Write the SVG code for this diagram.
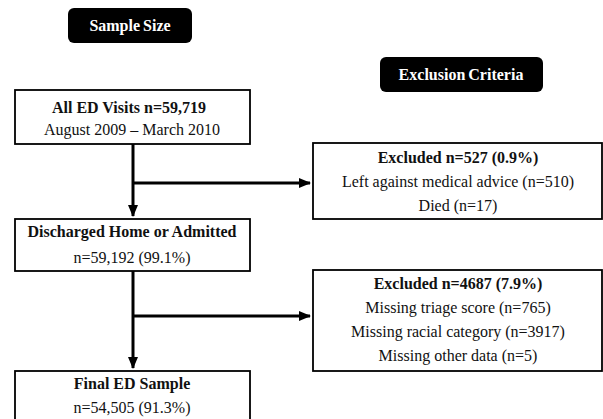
<svg xmlns="http://www.w3.org/2000/svg" width="603" height="419" viewBox="0 0 603 419">
<style>
.box{fill:#fff;stroke:#000;stroke-width:1.8}
.pill{fill:#000}
.t{font-family:"Liberation Serif","Times New Roman",serif;font-size:16px;fill:#111;text-anchor:middle}
.b{font-weight:bold}
.pt{font-family:"Liberation Serif","Times New Roman",serif;font-size:16px;font-weight:bold;fill:#fff;text-anchor:middle}
.ln{stroke:#000;stroke-width:3;fill:none}
</style>
<defs>
<marker id="ah" markerUnits="userSpaceOnUse" markerWidth="12" markerHeight="10" refX="11" refY="5" orient="auto">
<path d="M0,0 L12,5 L0,10 Z" fill="#000"/>
</marker>
</defs>
<g id="sample-size">
<rect class="pill" x="68" y="8" width="124" height="35" rx="6"/>
<text class="pt" x="130" y="31" word-spacing="-1">Sample Size</text>
</g>
<g id="exclusion-criteria">
<rect class="pill" x="380" y="57" width="163" height="35" rx="6"/>
<text class="pt" x="461" y="80" word-spacing="-1">Exclusion Criteria</text>
</g>
<g id="all-visits">
<rect class="box" x="15" y="90" width="235" height="54"/>
<text class="t b" x="129" y="113">All ED Visits n=59,719</text>
<text class="t" x="132" y="135">August 2009 – March 2010</text>
</g>
<g id="excluded-1">
<rect class="box" x="313" y="143" width="289" height="76"/>
<text class="t b" x="458" y="163">Excluded n=527 (0.9%)</text>
<text class="t" x="458" y="187">Left against medical advice (n=510)</text>
<text class="t" x="458" y="211">Died (n=17)</text>
</g>
<g id="discharged">
<rect class="box" x="15" y="219" width="235" height="52"/>
<text class="t b" x="132" y="237">Discharged Home or Admitted</text>
<text class="t" x="132" y="263">n=59,192 (99.1%)</text>
</g>
<g id="excluded-2">
<rect class="box" x="313" y="270" width="289" height="101"/>
<text class="t b" x="458" y="289">Excluded n=4687 (7.9%)</text>
<text class="t" x="458" y="313">Missing triage score (n=765)</text>
<text class="t" x="458" y="337">Missing racial category (n=3917)</text>
<text class="t" x="458" y="361">Missing other data (n=5)</text>
</g>
<g id="final">
<rect class="box" x="15" y="371" width="235" height="60"/>
<text class="t b" x="132" y="389">Final ED Sample</text>
<text class="t" x="132" y="413">n=54,505 (91.3%)</text>
</g>
<g id="connectors">
<line class="ln" x1="133" y1="144" x2="133" y2="216" marker-end="url(#ah)"/>
<line class="ln" x1="133" y1="183" x2="310" y2="183" marker-end="url(#ah)"/>
<line class="ln" x1="133" y1="271" x2="133" y2="368" marker-end="url(#ah)"/>
<line class="ln" x1="133" y1="316" x2="310" y2="316" marker-end="url(#ah)"/>
</g>
</svg>
